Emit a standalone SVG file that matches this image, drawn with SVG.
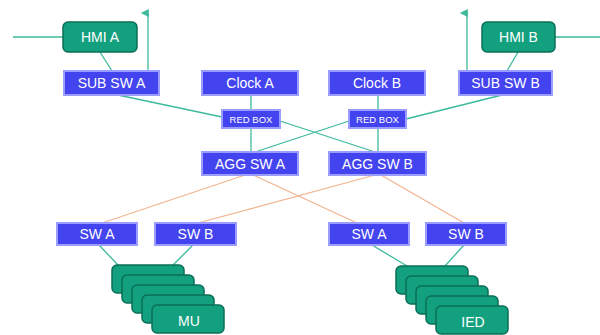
<svg xmlns="http://www.w3.org/2000/svg" width="600" height="335" viewBox="0 0 600 335">
<defs>
<style>
.b{fill:#4343f0;stroke:#9a9cff;stroke-width:2}
.g{fill:#13a07f;stroke:#0b6e56;stroke-width:1.5}
.t{fill:#fff;font-family:"Liberation Sans",Arial,sans-serif;font-size:14px;text-anchor:middle}
.s{font-size:9.5px}
.tl{stroke:#3dba9c;stroke-width:1.3;fill:none}
.ol{stroke:#f2b48e;stroke-width:1.2;fill:none}
</style>
<marker id="ah" viewBox="0 0 10 10" refX="5" refY="9" markerWidth="8" markerHeight="9" orient="auto-start-reverse" markerUnits="userSpaceOnUse">
<path d="M0,10 L5,0 L10,10 Z" fill="#3dba9c"/>
</marker>
<g id="stack">
<rect x="0" y="0" width="72" height="28" rx="5" class="g"/>
<rect x="10" y="10" width="72" height="28" rx="5" class="g"/>
<rect x="20" y="20" width="72" height="28" rx="5" class="g"/>
<rect x="30" y="30" width="72" height="28" rx="5" class="g"/>
<rect x="40" y="40" width="72" height="28" rx="5" class="g"/>
</g>
</defs>
<rect width="600" height="335" fill="#fff"/>
<g id="connectors">
<line class="tl" x1="13" y1="37" x2="63" y2="37"/>
<line class="tl" x1="555" y1="37" x2="600" y2="37"/>
<line class="tl" x1="148" y1="71" x2="148" y2="13" marker-end="url(#ah)"/>
<line class="tl" x1="467" y1="71" x2="467" y2="13" marker-end="url(#ah)"/>
<line class="tl" x1="100" y1="52" x2="112" y2="71"/>
<line class="tl" x1="518" y1="52" x2="507" y2="71"/>
<line class="tl" x1="118" y1="95" x2="222" y2="117"/>
<line class="tl" x1="502" y1="95" x2="406" y2="119"/>
<line class="tl" x1="251" y1="95" x2="251" y2="152"/>
<line class="tl" x1="378" y1="95" x2="378" y2="152"/>
<line class="tl" x1="280" y1="121" x2="375" y2="152"/>
<line class="tl" x1="349" y1="121" x2="255" y2="152"/>
<line class="ol" x1="245" y1="175" x2="102" y2="223"/>
<line class="ol" x1="253" y1="175" x2="357" y2="223"/>
<line class="ol" x1="375" y1="175" x2="198" y2="223"/>
<line class="ol" x1="381" y1="175" x2="464" y2="223"/>
<line class="tl" x1="99" y1="245" x2="118" y2="265"/>
<line class="tl" x1="193" y1="245" x2="173" y2="265"/>
<line class="tl" x1="372" y1="245" x2="407" y2="266"/>
<line class="tl" x1="464" y1="245" x2="445" y2="266"/>
</g>
<g id="hmi-a"><rect x="63" y="22" width="74" height="30" rx="5" class="g"/><text class="t" x="100" y="42">HMI A</text></g>
<g id="hmi-b"><rect x="482" y="22" width="73" height="30" rx="5" class="g"/><text class="t" x="518.5" y="42">HMI B</text></g>
<g id="sub-sw-a"><rect x="64" y="71" width="95" height="24" class="b"/><text class="t" x="111.5" y="88">SUB SW A</text></g>
<g id="clock-a"><rect x="202" y="71" width="96" height="24" class="b"/><text class="t" x="250" y="88">Clock A</text></g>
<g id="clock-b"><rect x="329" y="71" width="96" height="24" class="b"/><text class="t" x="377" y="88">Clock B</text></g>
<g id="sub-sw-b"><rect x="459" y="71" width="93" height="24" class="b"/><text class="t" x="505.5" y="88">SUB SW B</text></g>
<g id="red-box-a"><rect x="222" y="110" width="58" height="18" class="b"/><text class="t s" x="251" y="122.5">RED BOX</text></g>
<g id="red-box-b"><rect x="349" y="110" width="57" height="18" class="b"/><text class="t s" x="377.5" y="122.5">RED BOX</text></g>
<g id="agg-sw-a"><rect x="202" y="152" width="96" height="23" class="b"/><text class="t" x="250" y="168.5">AGG SW A</text></g>
<g id="agg-sw-b"><rect x="329" y="152" width="97" height="23" class="b"/><text class="t" x="377.5" y="168.5">AGG SW B</text></g>
<g id="sw-a-1"><rect x="57" y="223" width="80" height="22" class="b"/><text class="t" x="97" y="239">SW A</text></g>
<g id="sw-b-1"><rect x="155" y="223" width="81" height="22" class="b"/><text class="t" x="195.5" y="239">SW B</text></g>
<g id="sw-a-2"><rect x="329" y="223" width="80" height="22" class="b"/><text class="t" x="369" y="239">SW A</text></g>
<g id="sw-b-2"><rect x="426" y="223" width="80" height="22" class="b"/><text class="t" x="466" y="239">SW B</text></g>
<g id="mu"><use href="#stack" x="112" y="265"/><text class="t" x="189" y="325.5">MU</text></g>
<g id="ied"><use href="#stack" x="396" y="266"/><text class="t" x="473" y="326.5">IED</text></g>
</svg>
